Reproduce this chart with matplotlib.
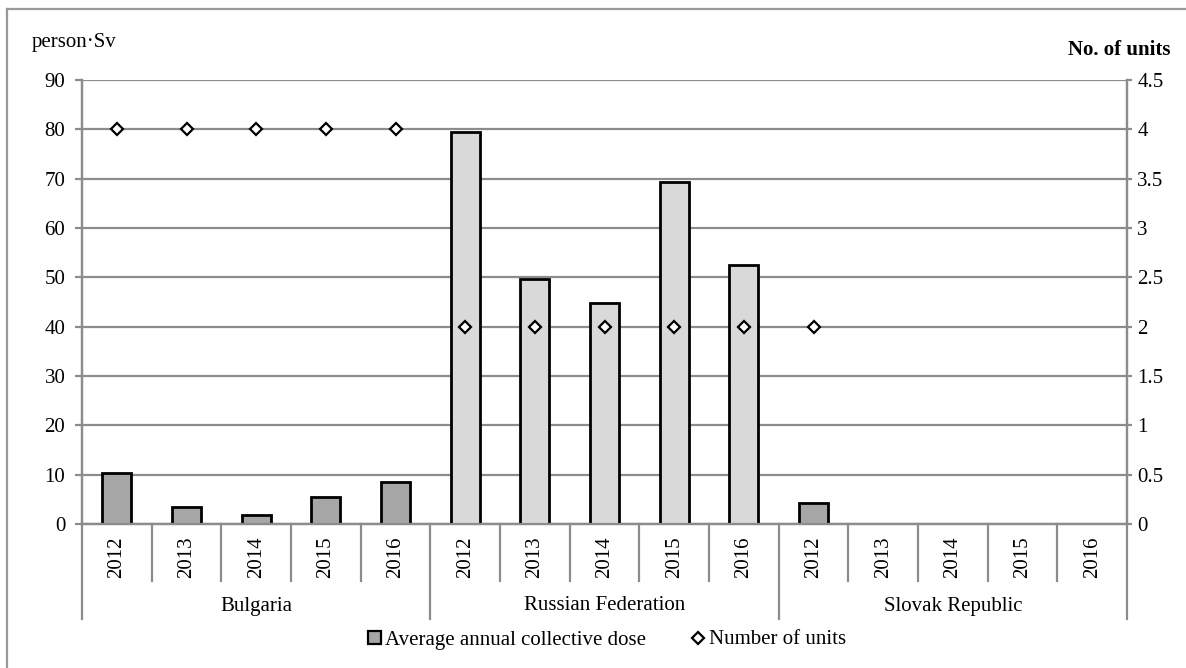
import numpy as np
import matplotlib.pyplot as plt
from matplotlib.lines import Line2D
from matplotlib.patches import Patch

plt.rcParams['font.family'] = ['Liberation Serif', 'DejaVu Serif']

# data
countries = ['Bulgaria', 'Russian Federation', 'Slovak Republic']
years = ['2012', '2013', '2014', '2015', '2016']
bulgaria_dose = [10.3, 3.4, 1.8, 5.4, 8.5]
russia_dose = [79.4, 49.6, 44.7, 69.4, 52.6]
slovak_dose = [4.3, np.nan, np.nan, np.nan, np.nan]
bulgaria_units = [4, 4, 4, 4, 4]
russia_units = [2, 2, 2, 2, 2]
slovak_units = [2, np.nan, np.nan, np.nan, np.nan]

dose = bulgaria_dose + russia_dose + slovak_dose
units = bulgaria_units + russia_units + slovak_units
bar_colors = ['#a6a6a6'] * 5 + ['#d9d9d9'] * 5 + ['#a6a6a6'] * 5
labels = years * 3
x = np.arange(len(dose))

W, H = 1186, 668
fig = plt.figure(figsize=(W / 100, H / 100), dpi=100)
ax = fig.add_axes([82 / W, 1 - 524 / H, (1127 - 82) / W, 444 / H])
ax2 = ax.twinx()

grid_c = '#8c8c8c'
fs = 15

ax.bar(x, dose, width=0.42, color=bar_colors, edgecolor='black', linewidth=2, zorder=3)
ax2.plot(x, units, linestyle='none', marker='D', markersize=6.5,
         markerfacecolor='white', markeredgecolor='black', markeredgewidth=1.6, zorder=4)

ax.set_xlim(-0.5, len(dose) - 0.5)
ax.set_ylim(0, 90)
ax.set_yticks(np.arange(0, 91, 10))
ax2.set_ylim(0, 4.5)
ax2.set_yticks(np.arange(0, 4.6, 0.5))
ax2.set_yticklabels(['0', '0.5', '1', '1.5', '2', '2.5', '3', '3.5', '4', '4.5'])

ax.yaxis.grid(True, color=grid_c, linewidth=1.6, zorder=0)
ax.set_axisbelow(True)
ax.set_xticks(x)
ax.set_xticklabels(labels, rotation=90, fontsize=fs)
ax.tick_params(axis='x', length=0, pad=9)
ax.tick_params(axis='y', labelsize=fs, length=5, width=1.6, color=grid_c, pad=7)
ax2.tick_params(axis='y', labelsize=fs, length=3.5, width=1.6, color=grid_c, pad=4)

for a in (ax, ax2):
    for s in ['top']:
        a.spines[s].set_visible(False)
    for s in ['left', 'right', 'bottom']:
        a.spines[s].set_color(grid_c)
        a.spines[s].set_linewidth(1.6)

# category separators below the axis
tr = ax.get_xaxis_transform()
for i in range(len(dose) + 1):
    pos = i - 0.5
    low = -95 / 444 if i % 5 == 0 else -57 / 444
    ax.plot([pos, pos], [0, low], color=grid_c, linewidth=1.6, transform=tr, clip_on=False)

for k, c in enumerate(countries):
    ax.text(k * 5 + 2, -(606 - 524) / 444, c, transform=tr, ha='center', va='center', fontsize=fs)

fig.text(32 / W, 1 - 43 / H, 'person·Sv', ha='left', va='center', fontsize=fs)
fig.text(1171 / W, 1 - 50 / H, 'No. of units', ha='right', va='center', fontsize=fs,
         fontweight='bold')

handles = [Patch(facecolor='#a6a6a6', edgecolor='black', linewidth=1.6),
           Line2D([], [], linestyle='none', marker='D', markersize=6.5,
                  markerfacecolor='white', markeredgecolor='black', markeredgewidth=1.6)]
fig.legend(handles, ['Average annual collective dose', 'Number of units'],
           loc='center', bbox_to_anchor=(607 / W, 1 - 640 / H), ncol=2, frameon=False,
           fontsize=fs, handlelength=0.6, handleheight=0.6, handletextpad=0.2,
           columnspacing=2.2)

# outer frame (left and top edges visible)
fig.add_artist(Line2D([7 / W, 7 / W], [0, 1 - 9 / H], color='#999999', linewidth=1.6))
fig.add_artist(Line2D([7 / W, 1], [1 - 9 / H, 1 - 9 / H], color='#999999', linewidth=1.6))

fig.savefig('out.png', dpi=100)
